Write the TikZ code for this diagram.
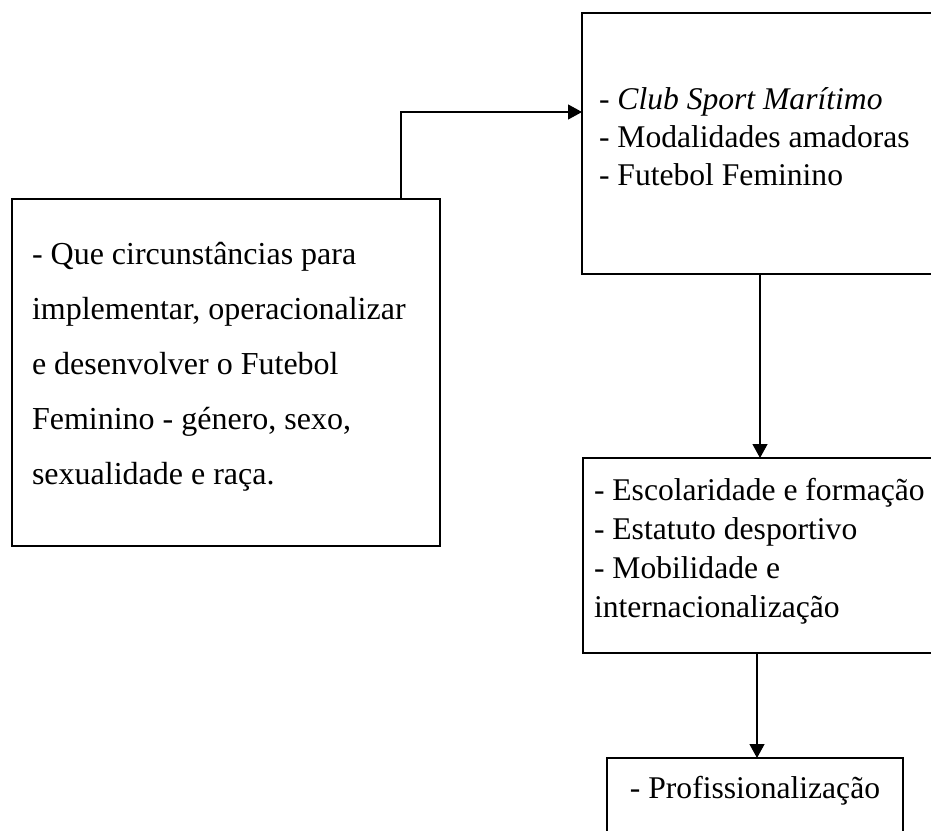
\documentclass[tikz,border=0pt]{standalone}
\usepackage{fontspec}
\setmainfont{Liberation Serif}
\usetikzlibrary{arrows.meta,calc}
\tikzset{
  boxnode/.style={draw=black, line width=2.6pt, rectangle, inner sep=0pt, outer sep=0pt, anchor=north west},
  txt/.style={inner sep=0pt, outer sep=0pt, anchor=base west, align=left},
  conn/.style={draw=black, line width=1.2pt, -{Triangle[length=14pt,width=15pt]}}
}
\begin{document}
\begin{tikzpicture}[x=1pt,y=-1pt]
\useasboundingbox (0,0) rectangle (931,830);
\clip (0,0) rectangle (931,830);
\fill[white] (0,0) rectangle (931,830);
% boxes
\node[boxnode, minimum width=428pt, minimum height=347pt] (A) at (12,199) {};
\node[boxnode, minimum width=368pt, minimum height=261pt] (B) at (582,13) {};
\node[boxnode, minimum width=368pt, minimum height=195pt] (C) at (583,458) {};
\node[boxnode, minimum width=296pt, minimum height=120pt] (D) at (607,758) {};
% texts (anchored at the baseline of their last line)
\node[txt, font=\fontsize{32pt}{55pt}\selectfont] (At) at (32,484)
  {- Que circunstâncias para\\implementar, operacionalizar\\e desenvolver o Futebol\\Feminino - género, sexo,\\sexualidade e raça.};
\node[txt, font=\fontsize{31.6pt}{38pt}\selectfont] (Bt) at (599,185)
  {- \textit{Club Sport Marítimo}\\- Modalidades amadoras\\- Futebol Feminino};
\node[txt, font=\fontsize{31.6pt}{39pt}\selectfont] (Ct) at (594,617)
  {- Escolaridade e formação\\- Estatuto desportivo\\- Mobilidade e\\internacionalização};
\node[inner sep=0pt, anchor=base, font=\fontsize{31.6pt}{38pt}\selectfont] (Dt) at (755,798)
  {- Profissionalização};
% connectors
\coordinate (a1) at ($(A.north west)+(389,0)$);
\coordinate (b1) at ($(B.north west)+(0,99)$);
\draw[conn] (a1) |- (b1);
\coordinate (b2) at ($(B.south west)+(178,0)$);
\draw[conn] (b2) -- (b2 |- C.north);
\coordinate (c2) at ($(C.south west)+(174,0)$);
\draw[conn] (c2) -- (c2 |- D.north);
\end{tikzpicture}
\end{document}
